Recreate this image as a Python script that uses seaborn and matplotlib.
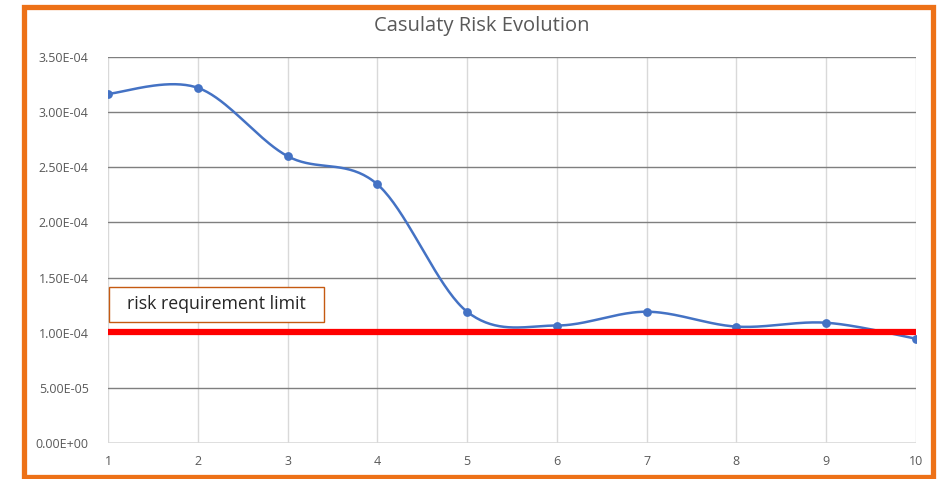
import numpy as np
import pandas as pd
import matplotlib
matplotlib.use("Agg")
import matplotlib.pyplot as plt
from matplotlib.patches import Rectangle
import seaborn as sns

steps = [1, 2, 3, 4, 5, 6, 7, 8, 9, 10]
risk = [3.165e-4, 3.22e-4, 2.60e-4, 2.345e-4, 1.19e-4, 1.065e-4, 1.19e-4, 1.055e-4, 1.09e-4, 0.945e-4]
limit_value = 1.01e-4
yticks = [0, 5e-5, 1e-4, 1.5e-4, 2e-4, 2.5e-4, 3e-4, 3.5e-4]
ytick_labels = ["0.00E+00", "5.00E-05", "1.00E-04", "1.50E-04", "2.00E-04",
                "2.50E-04", "3.00E-04", "3.50E-04"]
title = "Casulaty Risk Evolution"
label = "risk requirement limit"


def smooth(xs, ys, n=40):
    """Excel-like smoothed line (Catmull-Rom via cubic Bezier)."""
    xs = np.asarray(xs, float)
    ys = np.asarray(ys, float)
    px = np.concatenate([[xs[0]], xs, [xs[-1]]])
    py = np.concatenate([[ys[0]], ys, [ys[-1]]])
    ox, oy = [], []
    t = np.linspace(0, 1, n)
    for i in range(1, len(px) - 2):
        p0 = np.array([px[i], py[i]])
        p3 = np.array([px[i + 1], py[i + 1]])
        c1 = p0 + (np.array([px[i + 1], py[i + 1]]) - np.array([px[i - 1], py[i - 1]])) / 6
        c2 = p3 - (np.array([px[i + 2], py[i + 2]]) - np.array([px[i], py[i]])) / 6
        b = ((1 - t) ** 3)[:, None] * p0 + (3 * (1 - t) ** 2 * t)[:, None] * c1 \
            + (3 * (1 - t) * t ** 2)[:, None] * c2 + (t ** 3)[:, None] * p3
        ox.extend(b[:, 0])
        oy.extend(b[:, 1])
    return np.array(ox), np.array(oy)


sns.set_style("white")
plt.rcParams["font.family"] = ["Open Sans", "DejaVu Sans"]

fig = plt.figure(figsize=(9.41, 4.79), dpi=100)
ax = fig.add_axes([0.1148, 0.0752, 0.8586, 0.806])

sx, sy = smooth(steps, risk)
curve = pd.DataFrame({"x": sx, "y": sy})
pts = pd.DataFrame({"x": steps, "y": risk})
lim = pd.DataFrame({"x": [steps[0], steps[-1]], "y": [limit_value, limit_value]})

# grid
for xv in steps:
    ax.axvline(xv, color="#d9d9d9", lw=1.0, zorder=0)
for yv in yticks[1:]:
    ax.axhline(yv, color="#7f7f7f", lw=1.0, zorder=0)
ax.axhline(0, color="#d9d9d9", lw=1.2, zorder=0)

sns.lineplot(data=curve, x="x", y="y", ax=ax, color="#4472C4", lw=1.8,
             sort=False, estimator=None, zorder=3)
sns.scatterplot(data=pts, x="x", y="y", ax=ax, color="#4472C4", s=40,
                edgecolor="#4472C4", linewidth=0, zorder=4)
sns.lineplot(data=lim, x="x", y="y", ax=ax, color="#FF0000", lw=4.5,
             estimator=None, zorder=5)

ax.set_xlim(steps[0], steps[-1])
ax.set_ylim(0, 3.5e-4)
ax.set_xticks(steps)
ax.set_xticklabels([str(s) for s in steps])
ax.set_yticks(yticks)
ax.set_yticklabels(ytick_labels)
ax.tick_params(axis="both", colors="#595959", labelsize=9, length=0)
ax.tick_params(axis="y", pad=14)
ax.tick_params(axis="x", pad=9)
ax.set_xlabel("")
ax.set_ylabel("")
for sp in ax.spines.values():
    sp.set_visible(False)

fig.text(0.512, 1 - 26 / 479, title, ha="center", va="center", fontsize=14.5, color="#595959")

# label box (pixel-based placement converted to axes fraction)
bx0, bx1 = (109 - 108) / 808, (324 - 108) / 808
by0, by1 = (443 - 322) / 386, (443 - 287) / 386
ax.add_patch(Rectangle((bx0, by0), bx1 - bx0, by1 - by0, transform=ax.transAxes,
                       facecolor="white", edgecolor="#C55A11", lw=1.0, zorder=6))
ax.text((bx0 + bx1) / 2, (by0 + by1) / 2, label, transform=ax.transAxes,
        fontsize=12.8, color="#262626", va="center", ha="center", zorder=7)

fig.patches.append(Rectangle((23.5 / 941, 1 - 477 / 479), 909 / 941, 470.5 / 479,
                             transform=fig.transFigure, fill=False,
                             edgecolor="#ED7117", lw=3.8))

fig.savefig("out.png", dpi=100)
